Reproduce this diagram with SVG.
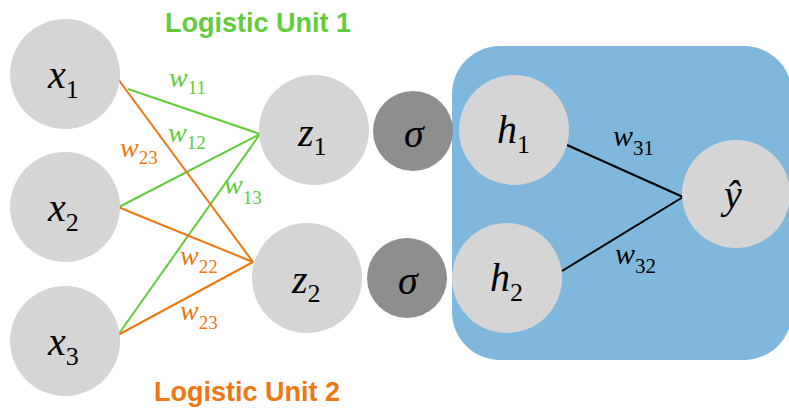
<svg xmlns="http://www.w3.org/2000/svg" width="789" height="408" viewBox="0 0 789 408">
<style>
.node{fill:#d5d5d5}
.sig{fill:#8e8e8e}
.v{font-family:"Liberation Serif",serif;font-style:italic;font-size:40px;fill:#000}
.v .s{font-style:normal;font-size:26px}
.w{font-family:"Liberation Serif",serif;font-style:italic;font-size:28px}
.w .s{font-style:normal;font-size:19px}
.wb{font-family:"Liberation Serif",serif;font-style:italic;font-size:30px;fill:#000}
.wb .s{font-style:normal;font-size:21px}
.g{fill:#62cc3a}
.o{fill:#ee7710}
.title{font-family:"Liberation Sans",Arial,sans-serif;font-weight:bold;font-size:27px}
.lg{stroke:#62cc3a;stroke-width:2;fill:none}
.lo{stroke:#ee7710;stroke-width:2;fill:none}
.lb{stroke:#000;stroke-width:2;fill:none}
</style>
<rect id="output-layer" x="452" y="46" width="340" height="314" rx="48" fill="#7fb8dc"/>
<g id="connectors">
<line class="lg" x1="128" y1="89" x2="260" y2="134"/>
<line class="lg" x1="119" y1="207" x2="260" y2="134"/>
<line class="lg" x1="118" y1="335" x2="260" y2="134"/>
<line class="lo" x1="118" y1="79" x2="253" y2="262"/>
<line class="lo" x1="118" y1="207" x2="253" y2="262"/>
<line class="lo" x1="118" y1="335" x2="253" y2="262"/>
<line class="lb" x1="567" y1="145" x2="683" y2="197"/>
<line class="lb" x1="562" y1="271" x2="683" y2="197"/>
</g>
<g id="labels">
<text class="title g" x="165" y="32">Logistic Unit 1</text>
<text class="title o" x="154" y="401">Logistic Unit 2</text>
<text class="w g" x="169" y="87">w<tspan class="s" dy="7">11</tspan></text>
<text class="w g" x="168" y="142">w<tspan class="s" dy="7">12</tspan></text>
<text class="w o" x="120" y="157">w<tspan class="s" dy="7">23</tspan></text>
<text class="w g" x="224" y="194">w<tspan class="s" dy="10">13</tspan></text>
<text class="w o" x="180" y="265">w<tspan class="s" dy="8">22</tspan></text>
<text class="w o" x="180" y="320">w<tspan class="s" dy="9">23</tspan></text>
<text class="wb" x="613" y="146">w<tspan class="s" dy="9">31</tspan></text>
<text class="wb" x="615" y="264">w<tspan class="s" dy="9">32</tspan></text>
</g>
<g id="x1"><circle class="node" cx="65" cy="74" r="55"/><text class="v" x="48" y="88">x<tspan class="s" dy="10">1</tspan></text></g>
<g id="x2"><circle class="node" cx="65" cy="207" r="55"/><text class="v" x="48" y="221">x<tspan class="s" dy="10">2</tspan></text></g>
<g id="x3"><circle class="node" cx="65" cy="341" r="55"/><text class="v" x="48" y="355">x<tspan class="s" dy="10">3</tspan></text></g>
<g id="z1"><circle class="node" cx="314" cy="130" r="55"/><text class="v" x="298" y="146">z<tspan class="s" dy="9">1</tspan></text></g>
<g id="z2"><circle class="node" cx="307" cy="278" r="55"/><text class="v" x="292" y="293">z<tspan class="s" dy="9">2</tspan></text></g>
<g id="sigma1"><circle class="sig" cx="413" cy="131" r="40"/><text class="v" x="404" y="147">σ</text></g>
<g id="sigma2"><circle class="sig" cx="407" cy="278" r="40"/><text class="v" x="398" y="294">σ</text></g>
<g id="h1"><circle class="node" cx="514" cy="130" r="55"/><text class="v" x="497" y="143">h<tspan class="s" dy="10">1</tspan></text></g>
<g id="h2"><circle class="node" cx="507" cy="278" r="55"/><text class="v" x="490" y="291">h<tspan class="s" dy="10">2</tspan></text></g>
<g id="yhat"><circle class="node" cx="736" cy="194" r="54"/><text class="v" x="724" y="208">ŷ</text></g>
</svg>
